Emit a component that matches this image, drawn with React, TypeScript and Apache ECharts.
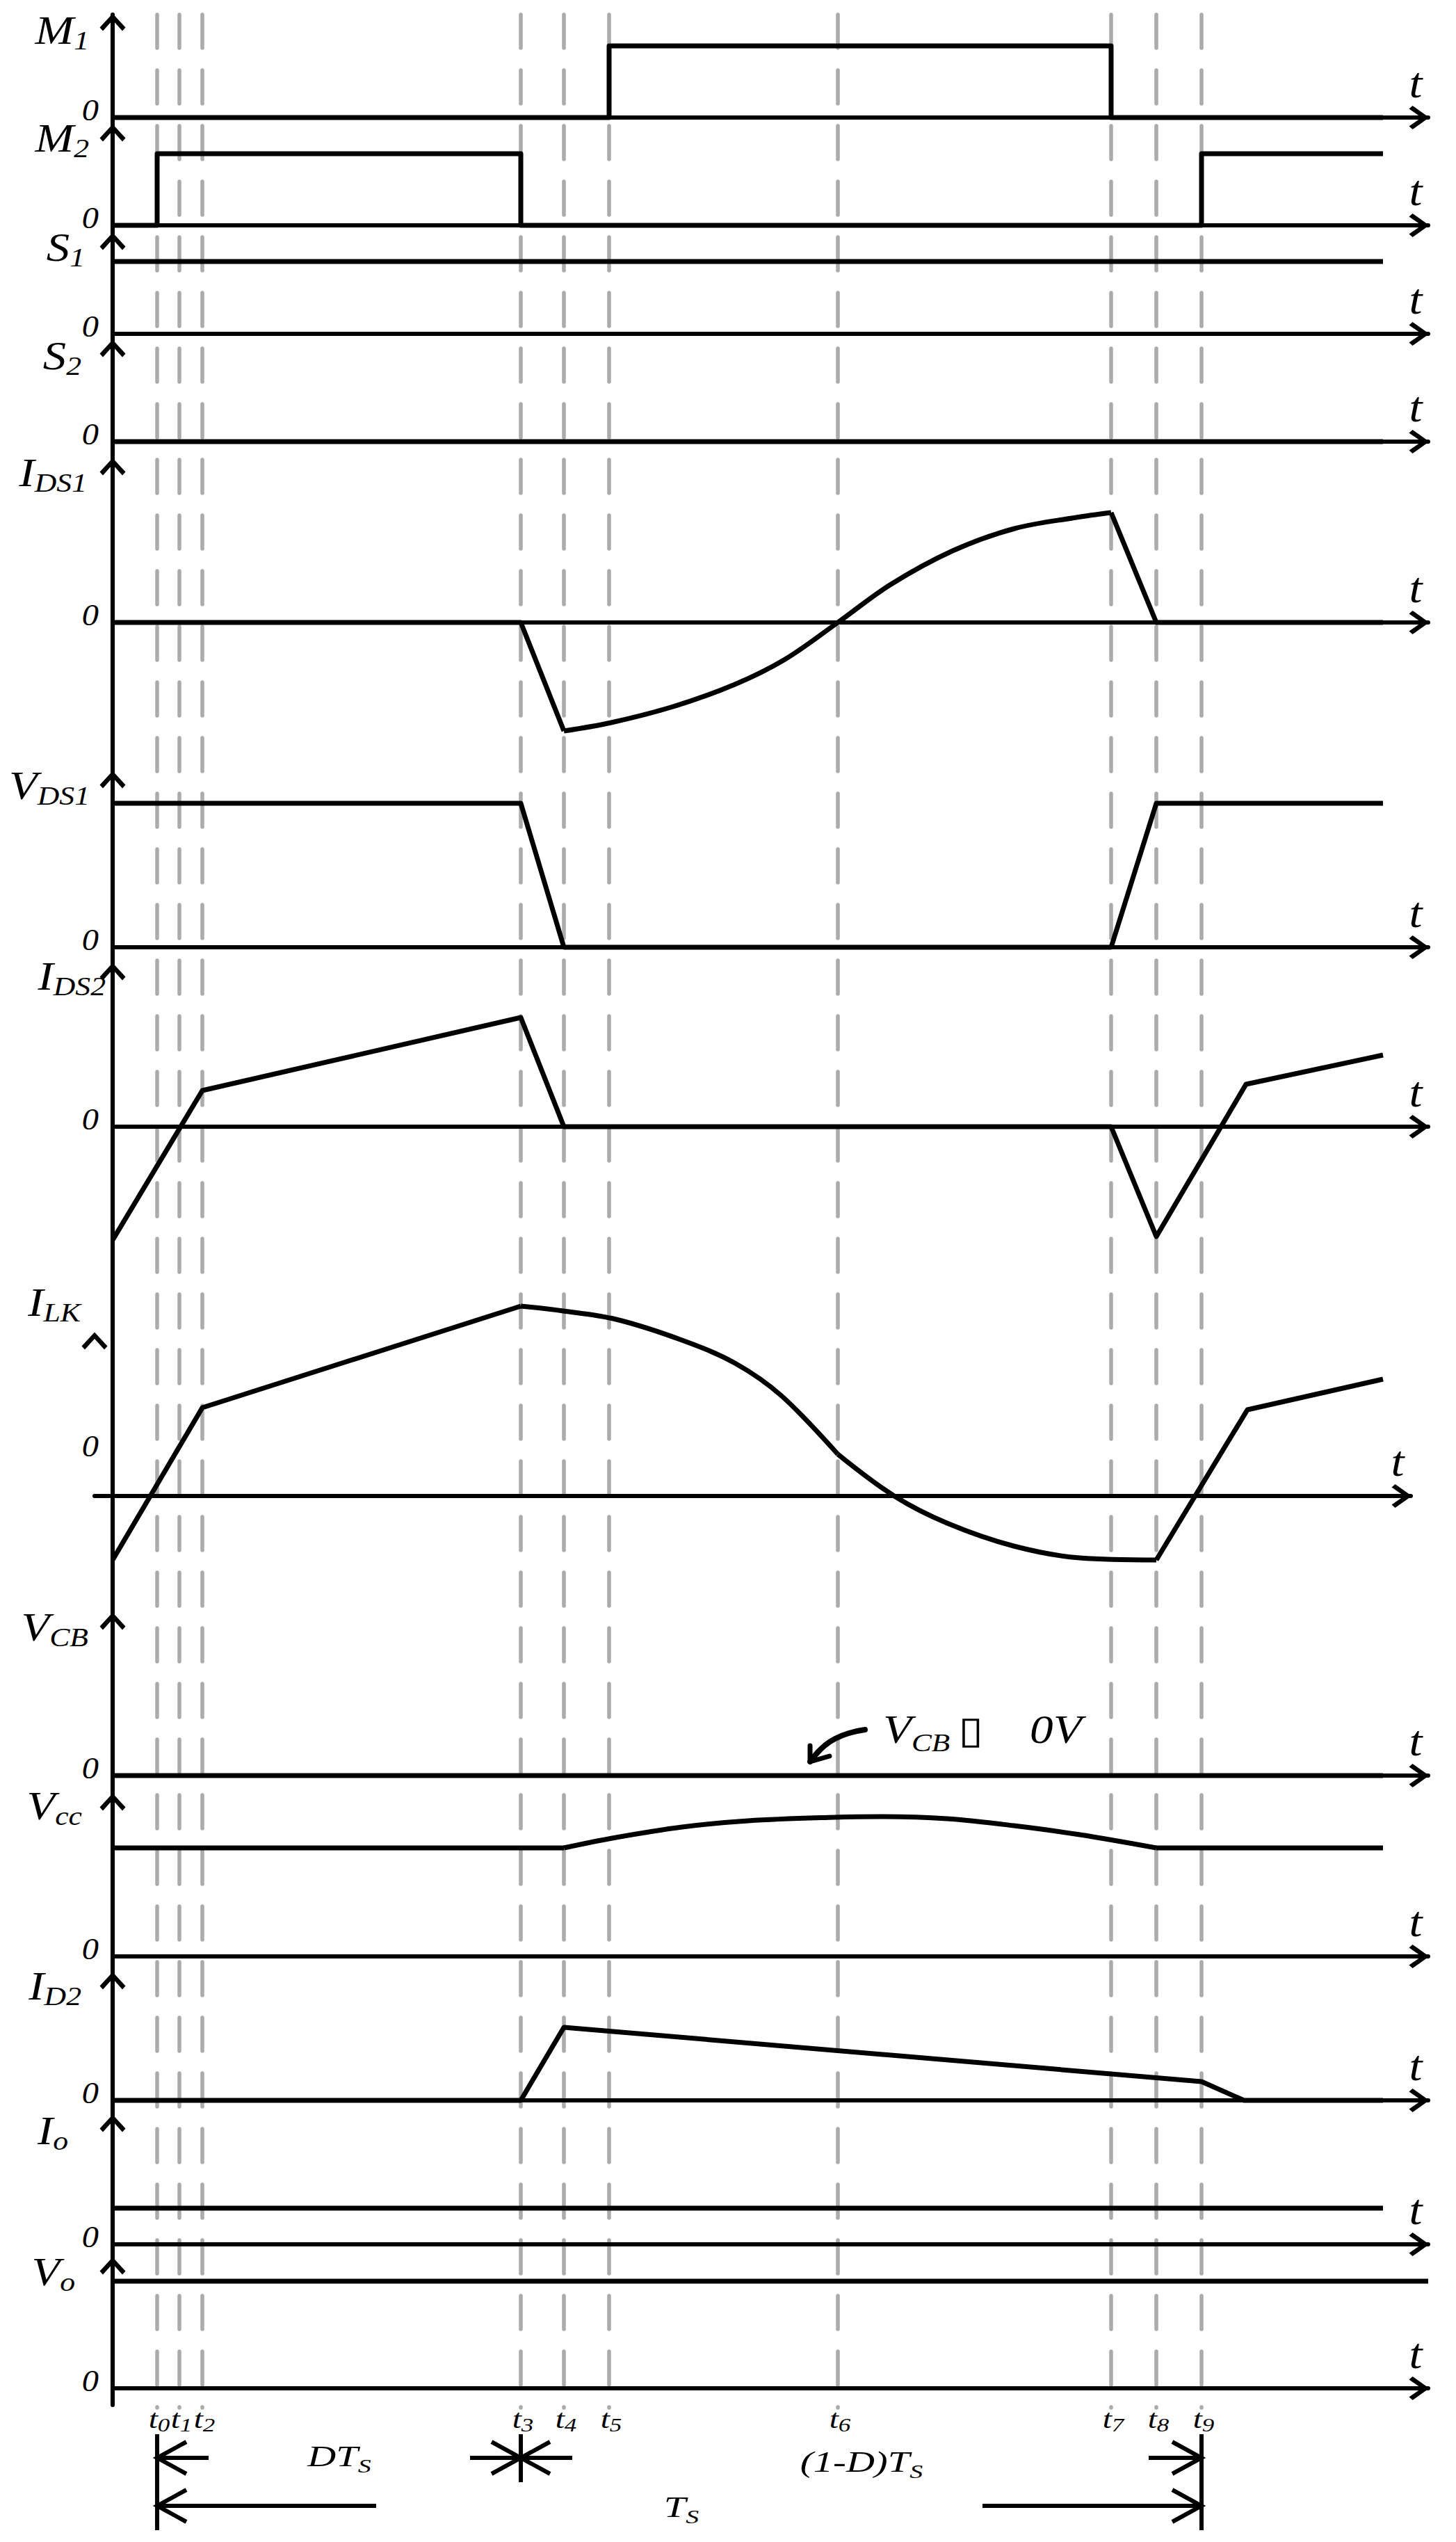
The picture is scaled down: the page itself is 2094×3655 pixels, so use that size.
import React, { useEffect, useRef } from "react";
import * as echarts from "echarts";

const WIDTH = 2094;
const HEIGHT = 3655;

// ---------- time instants (x units: time measured from the vertical axis) ----------
const timeDigits = ["0", "1", "2", "3", "4", "5", "6", "7", "8", "9"];
const timeValues = [64, 96, 129, 587, 649, 714, 1043, 1436, 1501, 1566];
const [T0, T1, T2, T3, T4, T5, T6, T7, T8, T9] = timeValues;
const SIGNAL_END = 1827;
const AXIS_END = 1892;

// ---------- panel names ----------
const panelMain = ["M", "M", "S", "S", "I", "V", "I", "I", "V", "V", "I", "I", "V"];
const panelSub = ["1", "2", "1", "2", "DS1", "DS1", "DS2", "LK", "CB", "cc", "D2", "o", "o"];

// ---------- waveforms [time, amplitude] ----------
const m1Wave = [[0, 0], [T5, 0], [T5, 103], [T7, 103], [T7, 0], [SIGNAL_END, 0]];
const m2Wave = [[0, 0], [T0, 0], [T0, 103], [T3, 103], [T3, 0], [T9, 0], [T9, 103], [SIGNAL_END, 103]];
const s1Wave = [[0, 104], [SIGNAL_END, 104]];
const s2Wave = [[0, 0], [SIGNAL_END, 0]];
const ids1Ramp = [[0, 0], [T3, 0], [T4, -156]];
const ids1Curve = [[T4, -156], [717, -144], [806, -121], [895, -89], [967, -53], [T6, 0], [1118, 54], [1208, 103], [1297, 135], [1386, 151], [T7, 158]];
const ids1Fall = [[T7, 158], [T8, 0], [SIGNAL_END, 0]];
const vds1Wave = [[0, 207], [T3, 207], [T4, 0], [T7, 0], [T8, 207], [SIGNAL_END, 207]];
const ids2Wave = [[0, -163], [T2, 52], [T3, 157], [T4, 0], [T7, 0], [T8, -158], [1630, 61], [SIGNAL_END, 103]];
const ilkRamp = [[0, -92], [T2, 127], [T3, 273]];
const ilkCurveA = [[T3, 273], [648, 266], [724, 254], [819, 224], [895, 191], [962, 144], [T6, 60]];
const ilkCurveB = [[T6, 60], [1124, 0], [1200, -39], [1296, -72], [1391, -89], [T8, -92]];
const ilkRise = [[T8, -92], [1632, 124], [SIGNAL_END, 168]];
const vcbWave = [[0, 0], [SIGNAL_END, 0]];
const vccFlat1 = [[0, 156], [T4, 156]];
const vccArc = [[T4, 156], [724, 171], [819, 186], [914, 195], [1038, 200], [1105, 201], [1200, 198], [1296, 188], [1391, 175], [T8, 156]];
const vccFlat2 = [[T8, 156], [SIGNAL_END, 156]];
const id2Wave = [[0, 0], [T3, 0], [T4, 105], [T9, 27], [1627, 0], [SIGNAL_END, 0]];
const ioWave = [[0, 52], [SIGNAL_END, 52]];
const voWave = [[0, 154], [AXIS_END, 154]];

// VCB annotation arrow (VCB panel units)
const vcbArrowCurve = [[1003, 20], [1011, 30], [1024, 43], [1039, 53], [1059, 61], [1082, 66]];
const vcbArrowHead = [[1003, 43], [1003, 20], [1031, 28]];

// dimension arrows below the chart
const dimensionRowsPx = [3534, 3603];
const dimArrows = [
  { row: 0, tip: T0, tail: 138 },
  { row: 0, tip: T3, tail: 514 },
  { row: 0, tip: T3, tail: 661 },
  { row: 0, tip: T9, tail: 1490 },
  { row: 1, tip: T0, tail: 379 },
  { row: 1, tip: T9, tail: 1251 },
];
const dimBars = [
  { x: T0, from: 3500, to: 3638 },
  { x: T3, from: 3500, to: 3569 },
  { x: T9, from: 3500, to: 3638 },
];

// ---------- layout (page px) ----------
const AXIS_X = 162;
const panelTopPx = [21, 180, 336, 490, 660, 1110, 1386, 1917, 2320, 2580, 2837, 3042, 3247];
const panelZeroPx = [169, 324, 480, 635, 895, 1362, 1620, 2151, 2553, 2813, 3020, 3227, 3434];
const AXIS_BOTTOM_PX = 3458;
const ILK = 7;
const VCB = 8;
const labelRightPx = [128, 128, 122, 117, 125, 129, 152, 116, 127, 118, 117, 98, 108];
const labelMidPx = [44, 199, 356, 512, 680, 1130, 1404, 1873, 2340, 2597, 2856, 3064, 3267];

const SERIF = "Liberation Serif, Times New Roman, serif";
const f = (size: number) => `italic ${size}px ${SERIF}`;
const CHEVRON_Y = "path://M0,20 L18.5,0 L37,20 L32.5,25 L18.5,9.5 L4.5,25 Z";
const CHEVRON_X = "path://M0,24 L17,0 L34,24 L29.5,29 L17,11 L4.5,29 Z";

const panelWaves: { data: number[][]; smooth?: boolean }[][] = [
  [{ data: m1Wave }],
  [{ data: m2Wave }],
  [{ data: s1Wave }],
  [{ data: s2Wave }],
  [{ data: ids1Ramp }, { data: ids1Curve, smooth: true }, { data: ids1Fall }],
  [{ data: vds1Wave }],
  [{ data: ids2Wave }],
  [{ data: ilkRamp }, { data: ilkCurveA, smooth: true }, { data: ilkCurveB, smooth: true }, { data: ilkRise }],
  [{ data: vcbWave }],
  [{ data: vccFlat1 }, { data: vccArc, smooth: true }, { data: vccFlat2 }],
  [{ data: id2Wave }],
  [{ data: ioWave }],
  [{ data: voWave }],
];

const N = panelTopPx.length;
const OVERLAY = N; // grid / xAxis / yAxis index of the overlay

function buildOption() {
  const grid: any[] = [];
  const xAxis: any[] = [];
  const yAxis: any[] = [];
  const series: any[] = [];
  const hidden = { axisTick: { show: false }, axisLabel: { show: false }, splitLine: { show: false } };

  for (let i = 0; i < N; i++) {
    const top = panelTopPx[i];
    const bottom = i < N - 1 ? panelTopPx[i + 1] : AXIS_BOTTOM_PX;
    const zero = panelZeroPx[i];
    const isIlk = i === ILK;
    grid.push({ left: isIlk ? AXIS_X - 26 : AXIS_X, top, width: isIlk ? 1893 : AXIS_END, height: bottom - top, outerBoundsMode: "none" });
    xAxis.push({
      type: "value", gridIndex: i, min: isIlk ? -26 : 0, max: isIlk ? 1867 : AXIS_END,
      axisLine: { show: true, onZero: true, lineStyle: { color: "#000", width: 6 }, symbol: ["none", CHEVRON_X], symbolSize: [34, 29], symbolOffset: [0, -13] },
      ...hidden,
    });
    yAxis.push({
      type: "value", gridIndex: i, min: zero - bottom, max: zero - top,
      axisLine: { show: true, onZero: true, lineStyle: { color: "#000", width: 6 }, symbol: isIlk ? "none" : ["none", CHEVRON_Y], symbolSize: [37, 25], symbolOffset: [0, -11] },
      ...hidden,
    });
    panelWaves[i].forEach((w) => {
      series.push({
        type: "line", xAxisIndex: i, yAxisIndex: i, data: w.data, smooth: w.smooth ? 0.35 : false,
        symbol: "none", clip: false, silent: true, z: 3,
        lineStyle: { color: "#000", width: 7, join: "round" },
      });
    });
  }

  // overlay grid (x: time units, y: page px)
  grid.push({ left: 0, top: 0, width: WIDTH, height: HEIGHT, outerBoundsMode: "none" });
  xAxis.push({ type: "value", gridIndex: OVERLAY, min: -AXIS_X, max: WIDTH - AXIS_X, show: false });
  yAxis.push({ type: "value", gridIndex: OVERLAY, min: 0, max: HEIGHT, inverse: true, show: false });

  // extra (detached) arrow for I_LK
  const ilkBottom = panelTopPx[ILK + 1];
  yAxis.push({
    type: "value", gridIndex: ILK, position: "left", min: panelZeroPx[ILK] - ilkBottom, max: panelZeroPx[ILK] - panelTopPx[ILK],
    axisLine: { show: true, onZero: false, lineStyle: { color: "#000", width: 0 }, symbol: ["none", CHEVRON_Y], symbolSize: [37, 25], symbolOffset: [0, -11] },
    ...hidden,
  });

  // dashed time markers
  timeValues.forEach((t) => {
    series.push({
      type: "line", xAxisIndex: OVERLAY, yAxisIndex: OVERLAY, data: [[t, 21], [t, 3462]], symbol: "none", silent: true, z: -1,
      lineStyle: { color: "#ababab", width: 5.5, type: [48, 32], cap: "round" },
    });
  });

  // dimension arrows
  const dimStyle = { color: "#000", width: 6, join: "miter" };
  dimBars.forEach((b) => {
    series.push({ type: "line", xAxisIndex: OVERLAY, yAxisIndex: OVERLAY, data: [[b.x, b.from], [b.x, b.to]], symbol: "none", silent: true, z: 3, lineStyle: dimStyle });
  });
  dimArrows.forEach((a) => {
    const y = dimensionRowsPx[a.row];
    const dir = Math.sign(a.tail - a.tip);
    series.push({ type: "line", xAxisIndex: OVERLAY, yAxisIndex: OVERLAY, data: [[a.tip, y], [a.tail, y]], symbol: "none", silent: true, z: 3, lineStyle: dimStyle });
    series.push({
      type: "line", xAxisIndex: OVERLAY, yAxisIndex: OVERLAY,
      data: [[a.tip + dir * 42, y - 23], [a.tip, y], [a.tip + dir * 42, y + 23]],
      symbol: "none", silent: true, z: 3, lineStyle: dimStyle,
    });
  });

  // VCB ≈ 0 annotation arrow
  series.push({ type: "line", xAxisIndex: VCB, yAxisIndex: VCB, data: vcbArrowCurve, smooth: 0.5, symbol: "none", silent: true, z: 3, clip: false, lineStyle: { color: "#000", width: 8, cap: "round" } });
  series.push({ type: "line", xAxisIndex: VCB, yAxisIndex: VCB, data: vcbArrowHead, symbol: "none", silent: true, z: 3, clip: false, lineStyle: { color: "#000", width: 7, cap: "round", join: "round" } });

  return { animation: false, backgroundColor: "#fff", grid, xAxis, yAxis, series };
}

function textEl(x: number, y: number, text: string, rich: any, align: string, scaleX: number) {
  return {
    type: "text", x, y, scaleX, z: 20, silent: true,
    style: { text, rich, fill: "#000", align, textAlign: align, verticalAlign: "middle", textVerticalAlign: "middle" },
  };
}

function buildTexts(chart: any) {
  const toPx = (u: number, y: number) => chart.convertToPixel({ gridIndex: OVERLAY }, [u, y]) as number[];
  const els: any[] = [];
  const panelRich = {
    m: { font: f(58), fill: "#000", lineHeight: 66 },
    s: { font: f(38), fill: "#000", lineHeight: 66, padding: [28, 0, 0, 0] },
  };
  const zeroRich = { z: { font: f(44), fill: "#000", lineHeight: 50 } };
  const tRich = { t: { font: f(62), fill: "#000", lineHeight: 70 } };
  for (let i = 0; i < N; i++) {
    let [x, y] = toPx(labelRightPx[i] - AXIS_X, labelMidPx[i]);
    els.push(textEl(x, y, `{m|${panelMain[i]}}{s|${panelSub[i]}}`, panelRich, "right", 1.15));
    const zeroMid = i === ILK ? 2079 : panelZeroPx[i] - 11;
    [x, y] = toPx(-20, zeroMid);
    els.push(textEl(x, y, "{z|0}", zeroRich, "right", 1.1));
    const tx = i === ILK ? 1848 : AXIS_END - 18;
    [x, y] = toPx(tx, panelZeroPx[i] - 50);
    els.push(textEl(x, y, "{t|t}", tRich, "center", 1.1));
  }
  // time labels
  const timeRich = {
    t: { font: f(38), fill: "#000", lineHeight: 44 },
    s: { font: f(28), fill: "#000", lineHeight: 44, padding: [18, 0, 0, 0] },
  };
  timeValues.forEach((t, i) => {
    const [x, y] = toPx(t + 3, 3478);
    els.push(textEl(x, y, `{t|t}{s|${timeDigits[i]}}`, timeRich, "center", 1.25));
  });
  // dimension labels
  const dimRich = {
    m: { font: f(42), fill: "#000", lineHeight: 56 },
    s: { font: f(28), fill: "#000", lineHeight: 56, padding: [26, 0, 0, 0] },
  };
  [[326, 3532, "{m|DT}{s|S}"], [1077, 3540, "{m|(1-D)T}{s|S}"], [818, 3605, "{m|T}{s|S}"]].forEach(([u, yy, txt]) => {
    const [x, y] = toPx(u as number, yy as number);
    els.push(textEl(x, y, txt as string, dimRich, "center", 1.35));
  });
  // V_CB ≈ 0V annotation
  const annRich = {
    m: { font: f(56), fill: "#000", lineHeight: 70 },
    s: { font: f(36), fill: "#000", lineHeight: 70, padding: [38, 0, 0, 0] },
    b: { font: "54px DejaVu Sans", fill: "#000", lineHeight: 70, padding: [0, 0, 0, 10] },
    v: { font: f(56), fill: "#000", lineHeight: 70, padding: [0, 0, 0, 56] },
  };
  const [ax, ay] = toPx(1108, 2487);
  els.push(textEl(ax, ay, "{m|V}{s|CB}{b|▯}{v|0V}", annRich, "left", 1.2));
  return els;
}

export default function App() {
  const ref = useRef<HTMLDivElement>(null);
  useEffect(() => {
    const el = ref.current;
    if (!el) return;
    const chart = echarts.init(el, undefined, { renderer: "svg" });
    chart.setOption(buildOption() as any);
    chart.setOption({ graphic: buildTexts(chart) } as any);
    return () => chart.dispose();
  }, []);
  return (
    <div
      ref={ref}
      style={{ position: "absolute", left: 0, top: 0, width: WIDTH, height: HEIGHT, background: "#fff" }}
    />
  );
}
